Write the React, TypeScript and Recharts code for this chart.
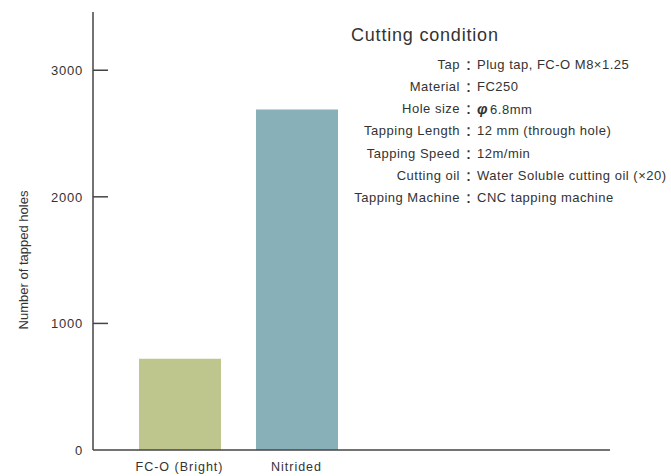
import { BarChart, Bar, Cell, XAxis, YAxis } from "recharts";

const categories = ["FC-O (Bright)", "Nitrided"];
const tappedHoles = [720, 2690];
const barColors = ["#bec68e", "#87b0b8"];
const yTicks = [0, 1000, 2000, 3000];

const conditionLabels = ["Tap", "Material", "Hole size", "Tapping Length", "Tapping Speed", "Cutting oil", "Tapping Machine"];
const conditionValues = [
  "Plug tap, FC-O M8×1.25",
  "FC250",
  "6.8mm",
  "12 mm (through hole)",
  "12m/min",
  "Water Soluble cutting oil (×20)",
  "CNC tapping machine",
];

const FONT = "'Liberation Sans', Arial, Helvetica, sans-serif";
const INK = "#333";

const data = categories.map((name, i) => ({ name, value: tappedHoles[i] }));

function YTick(props: any) {
  const { x, y, payload } = props;
  return (
    <g>
      {payload.value !== 0 && <line x1={x} y1={y} x2={x + 15} y2={y} stroke="#444" strokeWidth={1.5} />}
      <text x={x - 10} y={y} dy="0.36em" textAnchor="end" fontSize={13} letterSpacing={0.8} fill={INK} fontFamily={FONT}>
        {payload.value}
      </text>
    </g>
  );
}

function XTick(props: any) {
  const { x, y, payload } = props;
  return (
    <text x={x} y={y + 21} textAnchor="middle" fontSize={12.5} letterSpacing={1} fill={INK} fontFamily={FONT}>
      {payload.value}
    </text>
  );
}

function YLabel(props: any) {
  const { viewBox } = props;
  const cx = viewBox.x - 5;
  const cy = viewBox.y + viewBox.height / 2 + 29;
  return (
    <text x={cx} y={cy} transform={`rotate(-90, ${cx}, ${cy})`} textAnchor="middle" fontSize={13} fill={INK} fontFamily={FONT}>
      Number of tapped holes
    </text>
  );
}

export default function App() {
  return (
    <div style={{ position: "absolute", left: 0, top: 0, width: 671, height: 476, background: "#fff", fontFamily: FONT }}>
      <BarChart width={671} height={476} data={data} margin={{ top: 12, right: 61, left: 33, bottom: 0 }}>
        <XAxis
          dataKey="name"
          height={26}
          padding={{ left: 28, right: 255 }}
          tickLine={false}
          tickSize={0}
          tickMargin={0}
          axisLine={{ stroke: "#444", strokeWidth: 1.5 }}
          tick={<XTick />}
          interval={0}
        />
        <YAxis
          width={60}
          domain={[0, 3460]}
          ticks={yTicks}
          tickLine={false}
          tickSize={0}
          tickMargin={0}
          axisLine={{ stroke: "#444", strokeWidth: 1.5 }}
          tick={<YTick />}
          label={{ content: <YLabel /> }}
        />
        <Bar dataKey="value" barSize={82} isAnimationActive={false}>
          {data.map((d, i) => (
            <Cell key={d.name} fill={barColors[i]} />
          ))}
        </Bar>
      </BarChart>

      <div style={{ position: "absolute", left: 351, top: 26, fontSize: 18, lineHeight: "18px", letterSpacing: 0.8, color: INK }}>
        Cutting condition
      </div>
      <div style={{ position: "absolute", left: 300, top: 53.6, color: INK, fontSize: 13, letterSpacing: 0.5 }}>
        {conditionLabels.map((label, i) => (
          <div key={label} style={{ display: "flex", height: 22.3, lineHeight: "22.3px", whiteSpace: "nowrap" }}>
            <span style={{ width: 160, textAlign: "right" }}>{label}</span>
            <span style={{ width: 17, textAlign: "center", fontSize: 17 }}>：</span>
            <span>
              {label === "Hole size" && (
                <span style={{ fontStyle: "italic", fontWeight: "bold", fontSize: 15, marginRight: 2 }}>φ</span>
              )}
              {conditionValues[i]}
            </span>
          </div>
        ))}
      </div>
    </div>
  );
}
